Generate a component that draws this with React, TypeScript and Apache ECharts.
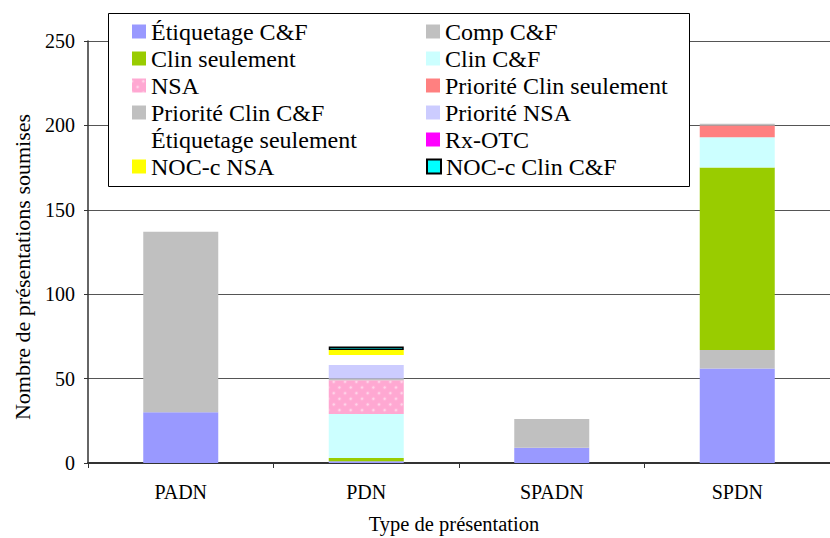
import React, { useEffect, useRef } from "react";
import * as echarts from "echarts";

const categories = ["PADN", "PDN", "SPADN", "SPDN"];
const seriesNames = [
  "Étiquetage C&F",
  "Comp C&F",
  "Clin seulement",
  "Clin C&F",
  "NSA",
  "Priorité Clin seulement",
  "Priorité Clin C&F",
  "Priorité NSA",
  "Étiquetage seulement",
  "Rx-OTC",
  "NOC-c NSA",
  "NOC-c Clin C&F",
];
const etiquetageCF = [30, 1, 9, 56];
const compCF = [107, 0, 17, 11];
const clinSeulement = [0, 2, 0, 108];
const clinCF = [0, 26, 0, 18];
const nsa = [0, 20, 0, 0];
const prioriteClinSeulement = [0, 0, 0, 7];
const prioriteClinCF = [0, 1, 0, 1];
const prioriteNSA = [0, 8, 0, 0];
const etiquetageSeulement = [0, 6, 0, 0];
const rxOTC = [0, 0, 0, 0];
const nocNSA = [0, 3, 0, 0];
const nocClinCF = [0, 2, 0, 0];
const yTicks = [0, 50, 100, 150, 200, 250];

const seriesValues = [
  etiquetageCF,
  compCF,
  clinSeulement,
  clinCF,
  nsa,
  prioriteClinSeulement,
  prioriteClinCF,
  prioriteNSA,
  etiquetageSeulement,
  rxOTC,
  nocNSA,
  nocClinCF,
];
const colors = [
  "#9999FF",
  "#C0C0C0",
  "#99CC00",
  "#CCFFFF",
  "#FFA8D2",
  "#FF8080",
  "#C0C0C0",
  "#CCCCFF",
  "rgba(255,255,255,0)",
  "#FF00FF",
  "#FFFF00",
  "#00FFFF",
];

const FONT = "Liberation Serif";

export default function App() {
  const ref = useRef<HTMLDivElement>(null);
  useEffect(() => {
    if (!ref.current) return;
    const chart = echarts.init(ref.current, undefined, { renderer: "svg" });
    const series = seriesNames.map((name, i) => {
      const itemStyle: any = { color: colors[i] };
      if (name === "NSA") {
        itemStyle.decal = {
          symbol: "rect",
          symbolSize: 0.6,
          color: "rgba(255,255,255,0.5)",
          dashArrayX: 4,
          dashArrayY: 4,
          rotation: Math.PI / 4,
        };
      }
      if (name === "NOC-c Clin C&F") {
        itemStyle.borderColor = "#000";
        itemStyle.borderWidth = 1.5;
      }
      return {
        name,
        type: "bar",
        stack: "total",
        barWidth: 75,
        itemStyle,
        emphasis: { disabled: true },
        data: seriesValues[i].map((v) => (v === 0 ? "-" : v)),
      };
    });
    chart.setOption({
      animation: false,
      backgroundColor: "#fff",
      textStyle: { fontFamily: FONT },
      grid: { left: 88, width: 747, top: 41, bottom: 75, containLabel: false },
      legend: {
        data: seriesNames,
        left: 132,
        top: 18,
        width: 600,
        orient: "horizontal",
        itemWidth: 14,
        itemHeight: 14,
        itemGap: 0,
        padding: 0,
        icon: "rect",
        selectedMode: false,
        z: 5,
        textStyle: {
          fontFamily: FONT,
          fontSize: 24,
          color: "#000",
          width: 275,
          lineHeight: 27,
        },
      },
      xAxis: {
        type: "category",
        data: categories,
        axisLine: { lineStyle: { color: "#333", width: 2 } },
        axisTick: { show: true, length: 5, lineStyle: { color: "#333" } },
        axisLabel: { fontFamily: FONT, fontSize: 20, color: "#000", margin: 19 },
      },
      yAxis: {
        type: "value",
        min: yTicks[0],
        max: yTicks[yTicks.length - 1],
        interval: 50,
        axisLine: { show: true, lineStyle: { color: "#333", width: 1.5 } },
        axisTick: { show: true, length: 4, lineStyle: { color: "#333" } },
        axisLabel: { fontFamily: FONT, fontSize: 20, color: "#000", margin: 13 },
        splitLine: { lineStyle: { color: "#555", width: 1 } },
      },
      graphic: [
        {
          type: "rect",
          z: 3,
          shape: { x: 108.5, y: 13.5, width: 581, height: 173 },
          style: { fill: "#fff", stroke: "#000", lineWidth: 1 },
        },
        {
          type: "text",
          x: 22,
          y: 267,
          rotation: Math.PI / 2,
          style: {
            text: "Nombre de présentations soumises",
            fontFamily: FONT,
            fontSize: 22,
            fill: "#000",
            align: "center",
            verticalAlign: "middle",
          },
        },
        {
          type: "text",
          x: 454,
          y: 524,
          style: {
            text: "Type de présentation",
            fontFamily: FONT,
            fontSize: 20.5,
            fill: "#000",
            align: "center",
            verticalAlign: "middle",
          },
        },
      ],
      series,
    });
    return () => chart.dispose();
  }, []);
  return <div ref={ref} style={{ width: 830, height: 538, position: "absolute", left: 0, top: 0 }} />;
}
